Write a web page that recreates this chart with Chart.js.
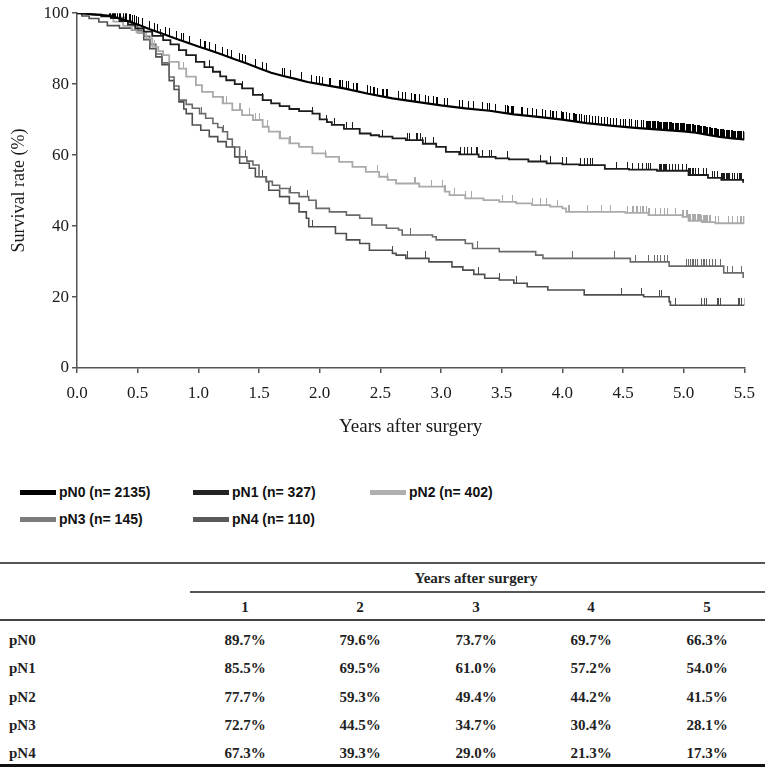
<!DOCTYPE html>
<html>
<head>
<meta charset="utf-8">
<script src="https://cdn.jsdelivr.net/npm/chart.js@4.4.1/dist/chart.umd.min.js"></script>
<style>
  body { margin: 0; background: #fff; }
  #page { position: relative; width: 765px; height: 767px; overflow: hidden; background: #fff; }
  #plot { position: absolute; left: 0; top: 0; }
  .leg { position: absolute; display: flex; align-items: center; white-space: nowrap;
         font: bold 14px "Liberation Sans", Arial, sans-serif; color: #111; transform: translateY(-50%); }
  .leg span.sw { display: inline-block; width: 36px; height: 5px; margin-right: 3px; }
  .rule { position: absolute; }
  .cell { position: absolute; white-space: nowrap; transform: translate(-50%, -50%);
          font: bold 15px "Liberation Serif", "Times New Roman", serif; color: #222; }
  .cell.left { transform: translate(0, -50%); }
</style>
</head>
<body>
<div id="page">
  <canvas id="plot" width="765" height="450"></canvas>
  <div id="legend"></div>
  <div id="table"></div>
</div>
<script>
// --- data ---
const groups = ['pN0', 'pN1', 'pN2', 'pN3', 'pN4'];
const groupSizes = [2135, 327, 402, 145, 110];

// [years, survival %] at each drop of the Kaplan-Meier curves
const pN0Curve = [[0,100],[0.1,99.8],[0.2,99.5],[0.3,99.0],[0.4,98.0],[0.5,96.8],[0.6,95.5],[0.7,94.3],
  [0.8,93.0],[0.9,91.8],[1.0,90.6],[1.1,89.5],[1.2,88.3],[1.3,87.0],[1.4,85.8],[1.5,84.5],[1.6,83.2],
  [1.7,82.3],[1.8,81.5],[1.9,80.6],[2.0,80.0],[2.2,78.8],[2.4,77.3],[2.6,76.0],[2.8,75.0],[3.0,74.0],
  [3.2,73.2],[3.4,72.5],[3.6,71.5],[3.8,70.8],[4.0,70.0],[4.2,69.0],[4.4,68.3],[4.6,67.7],[4.8,67.2],
  [5.0,66.7],[5.1,66.3],[5.2,65.7],[5.3,65.1],[5.4,64.7],[5.5,64.4]];
const pN1Curve = [[0,100],[0.12,99.6],[0.2,99.2],[0.28,98.6],[0.35,97.8],[0.42,96.8],[0.48,95.7],[0.55,94.8],
  [0.62,93.6],[0.71,92.4],[0.77,91.2],[0.84,89.6],[0.9,88.2],[0.98,86.3],[1.05,84.8],[1.12,83.5],[1.18,82.2],
  [1.23,81.1],[1.3,80.0],[1.36,78.8],[1.45,77.0],[1.53,75.5],[1.6,74.6],[1.67,73.8],[1.75,73.0],[1.83,72.4],
  [1.94,71.7],[2.0,70.1],[2.06,69.3],[2.1,68.5],[2.2,67.4],[2.33,66.1],[2.42,65.6],[2.49,65.2],[2.6,64.7],
  [2.71,64.2],[2.85,63.2],[2.96,62.3],[3.04,60.9],[3.15,60.2],[3.31,59.5],[3.45,59.1],[3.56,58.8],[3.72,58.2],
  [3.87,57.7],[4.0,57.4],[4.14,57.2],[4.35,56.1],[4.55,55.9],[4.78,55.6],[5.04,54.4],[5.2,53.6],[5.31,53.0],
  [5.49,52.2]];
const pN2Curve = [[0,100],[0.1,99.7],[0.2,99.0],[0.3,97.6],[0.38,96.4],[0.45,95.3],[0.49,94.7],[0.57,92.9],
  [0.62,90.5],[0.67,89.3],[0.71,88.2],[0.76,86.3],[0.84,84.4],[0.9,82.1],[0.98,79.7],[1.03,77.8],[1.12,76.4],
  [1.2,74.6],[1.28,72.7],[1.36,71.3],[1.45,69.9],[1.53,68.0],[1.58,66.6],[1.67,64.7],[1.75,63.3],[1.83,62.3],
  [1.94,60.5],[2.05,59.5],[2.16,58.1],[2.27,56.7],[2.38,55.3],[2.49,53.9],[2.56,53.0],[2.63,52.0],[2.82,51.1],
  [3.03,49.7],[3.07,48.7],[3.2,47.8],[3.35,47.3],[3.48,46.8],[3.62,46.4],[3.75,45.9],[3.9,45.5],[4.0,45.0],
  [4.03,44.0],[4.52,43.7],[4.71,43.1],[4.99,42.6],[5.04,41.5],[5.15,41.1],[5.26,40.8],[5.5,40.8]];
const pN3Curve = [[0,100],[0.15,99.5],[0.3,98.8],[0.4,97.8],[0.45,96.5],[0.5,95.2],[0.55,93.5],[0.6,91.2],
  [0.65,88.5],[0.7,86.0],[0.76,82.0],[0.8,79.5],[0.84,75.5],[0.9,74.3],[0.95,73.2],[1.01,71.7],[1.06,70.4],
  [1.12,68.9],[1.16,67.8],[1.2,66.6],[1.24,64.5],[1.28,62.3],[1.34,59.5],[1.4,58.3],[1.45,57.2],[1.5,53.9],
  [1.56,52.6],[1.61,51.5],[1.67,50.6],[1.75,49.4],[1.83,48.3],[1.91,47.3],[1.97,45.0],[2.08,44.0],[2.22,43.1],
  [2.33,42.2],[2.43,40.3],[2.55,39.4],[2.65,38.9],[2.68,37.5],[2.93,37.0],[2.96,36.1],[3.2,35.1],[3.26,33.7],
  [3.48,32.8],[3.78,31.8],[3.84,30.9],[4.56,29.9],[4.88,28.7],[5.33,26.8],[5.49,25.4]];
const pN4Curve = [[0,100],[0.04,99.2],[0.1,98.5],[0.18,97.5],[0.25,96.5],[0.35,95.8],[0.45,95.3],[0.5,94.5],
  [0.55,92.5],[0.6,90.0],[0.65,87.7],[0.7,85.5],[0.76,81.0],[0.8,78.5],[0.84,75.0],[0.88,73.0],[0.9,71.7],
  [0.95,68.5],[1.02,67.0],[1.09,65.2],[1.16,63.8],[1.23,62.3],[1.3,59.5],[1.34,57.7],[1.42,56.3],[1.47,53.9],
  [1.56,52.5],[1.58,50.1],[1.67,48.3],[1.75,46.4],[1.83,44.0],[1.89,42.2],[1.91,39.8],[2.13,37.9],[2.22,36.1],
  [2.33,35.1],[2.41,33.2],[2.6,32.3],[2.63,31.8],[2.71,30.9],[2.9,29.9],[3.09,28.5],[3.18,27.6],[3.27,26.4],
  [3.36,25.3],[3.48,24.8],[3.6,23.9],[3.71,22.9],[3.88,22.0],[4.18,20.6],[4.67,20.1],[4.88,18.7],[4.89,17.7],
  [5.5,17.7]];

// censoring times (years)
const pN0Censored = [0.27,0.28,0.29,0.30,0.31,0.32,0.33,0.35,0.36,0.38,0.40,0.41,0.43,0.44,0.46,0.47,0.49,0.51,
  0.54,0.60,0.64,0.66,0.73,0.76,0.82,0.86,0.88,0.93,1.02,1.05,1.06,1.09,1.14,1.20,1.24,1.27,1.34,1.36,1.39,
  1.47,1.53,1.56,1.69,1.71,1.76,1.85,1.93,1.97,2.00,2.02,2.08,2.09,2.16,2.17,2.19,2.22,2.24,2.28,2.30,2.31,
  2.39,2.42,2.44,2.45,2.48,2.52,2.53,2.55,2.56,2.65,2.68,2.71,2.76,2.78,2.79,2.82,2.87,2.90,2.94,2.96,2.97,
  3.03,3.05,3.15,3.18,3.23,3.27,3.34,3.38,3.40,3.45,3.53,3.55,3.56,3.58,3.59,3.60,3.66,3.67,3.71,3.75,3.79,
  3.84,3.86,3.90,3.92,3.93,3.95,3.99,4.00,4.01,4.03,4.06,4.09,4.10,4.11,4.12,4.14,4.16,4.18,4.20,4.22,4.25,
  4.27,4.30,4.32,4.35,4.37,4.40,4.42,4.45,4.48,4.50,4.52,4.55,4.57,4.60,4.62,4.65,4.67,4.69,
  4.70,4.71,4.72,4.73,4.74,4.75,4.76,4.77,4.78,4.79,4.80,4.81,4.82,4.83,4.84,4.85,4.86,4.87,4.88,4.89,
  4.90,4.91,4.92,4.93,4.94,4.95,4.96,4.97,4.98,4.99,5.00,5.01,5.02,5.03,5.04,5.05,5.06,5.07,5.08,5.09,
  5.10,5.11,5.12,5.13,5.14,5.15,5.16,5.17,5.18,5.19,5.20,5.21,5.22,5.23,5.24,5.25,5.26,5.27,5.28,5.29,
  5.30,5.31,5.32,5.33,5.34,5.35,5.36,5.37,5.38,5.39,5.40,5.41,5.42,5.43,5.44,5.45,5.46,5.47,5.48,5.49,5.50];
const pN1Censored = [0.69,1.09,1.36,1.53,1.94,2.06,2.12,2.22,2.27,2.52,2.72,2.74,2.80,2.81,2.83,2.85,2.87,2.94,
  3.16,3.19,3.22,3.25,3.29,3.30,3.34,3.40,3.42,3.55,3.82,3.90,4.00,4.03,4.15,4.18,4.21,4.23,4.25,4.45,4.54,
  4.58,4.63,4.66,4.69,4.71,4.73,4.80,4.81,4.82,4.83,4.84,4.85,4.86,4.88,4.91,4.93,4.96,4.99,5.02,5.04,5.05,
  5.06,5.07,5.08,5.10,5.12,5.16,5.19,5.24,5.25,5.28,5.31,5.32,5.33,5.34,5.35,5.36,5.37,5.38,5.40,5.42,5.44,
  5.46,5.47,5.48];
const pN2Censored = [0.54,0.57,0.64,0.76,0.88,1.21,1.23,1.34,1.35,1.42,1.47,1.50,1.53,1.57,1.68,1.75,1.76,1.94,
  2.05,2.48,2.56,2.78,2.79,2.92,3.01,3.03,3.04,3.11,3.20,3.25,3.51,3.59,3.75,3.82,3.87,3.96,4.05,4.06,4.21,
  4.32,4.40,4.54,4.58,4.59,4.61,4.62,4.64,4.66,4.67,4.69,4.71,4.72,4.77,4.81,4.84,4.87,4.93,4.99,5.00,5.02,
  5.03,5.04,5.05,5.06,5.07,5.08,5.09,5.10,5.11,5.12,5.13,5.14,5.15,5.16,5.17,5.18,5.19,5.20,5.21,5.22,5.26,
  5.29,5.37,5.40,5.44,5.47,5.48,5.49,5.50];
const pN3Censored = [1.03,1.21,1.39,1.76,1.90,1.97,2.75,3.30,4.08,4.43,4.60,4.71,4.76,4.78,4.81,4.84,4.87,5.02,
  5.04,5.06,5.07,5.08,5.10,5.11,5.15,5.16,5.17,5.19,5.21,5.24,5.26,5.30,5.36,5.40,5.48];
const pN4Censored = [1.53,1.94,2.60,2.72,2.87,3.31,3.48,3.62,4.49,4.65,4.80,4.82,4.93,5.15,5.17,5.19,5.28,5.29,
  5.30,5.45,5.46,5.48,5.50];

// survival table
const tableYears = [1, 2, 3, 4, 5];
const pN0Rates = ['89.7%', '79.6%', '73.7%', '69.7%', '66.3%'];
const pN1Rates = ['85.5%', '69.5%', '61.0%', '57.2%', '54.0%'];
const pN2Rates = ['77.7%', '59.3%', '49.4%', '44.2%', '41.5%'];
const pN3Rates = ['72.7%', '44.5%', '34.7%', '30.4%', '28.1%'];
const pN4Rates = ['67.3%', '39.3%', '29.0%', '21.3%', '17.3%'];

// --- styles ---
const curveColors = ['#000000', '#1c1c1c', '#aaaaaa', '#6a6a6a', '#4e4e4e'];
const legendColors = ['#000000', '#222222', '#b0b0b0', '#7c7c7c', '#5a5a5a'];
const curveWidths = [2.2, 1.8, 1.8, 1.6, 1.6];
const steppedCurve = [false, 'before', 'before', 'before', 'before'];
const tickHeights = [8, 7, 7, 7, 7];

const curves = [pN0Curve, pN1Curve, pN2Curve, pN3Curve, pN4Curve];
const censored = [pN0Censored, pN1Censored, pN2Censored, pN3Censored, pN4Censored];
const rates = [pN0Rates, pN1Rates, pN2Rates, pN3Rates, pN4Rates];

// curve value at time t (step lookup, or straight segments when not stepped)
function survivalAt(curve, t, stepped) {
    let prev = curve[0];
    for (let i = 1; i < curve.length; i++) {
        const cur = curve[i];
        if (cur[0] > t) {
            if (stepped) return prev[1];
            const f = (t - prev[0]) / (cur[0] - prev[0]);
            return prev[1] + f * (cur[1] - prev[1]);
        }
        prev = cur;
    }
    return prev[1];
}

// vertical censor mark sitting on top of the point
function censorMark(color, len) {
    const c = document.createElement('canvas');
    c.width = 1;
    c.height = len * 2;
    const g = c.getContext('2d');
    g.fillStyle = color;
    g.fillRect(0, 0, 1, len);
    return c;
}

const datasets = [];
groups.forEach((name, i) => {
    datasets.push({
        label: name,
        data: curves[i].map(p => ({ x: p[0], y: p[1] })),
        borderColor: curveColors[i],
        borderWidth: curveWidths[i],
        stepped: steppedCurve[i],
        tension: 0,
        pointRadius: 0,
        fill: false
    });
    datasets.push({
        label: name + ' censored',
        data: censored[i].map(t => ({ x: t, y: survivalAt(curves[i], t, !!steppedCurve[i]) })),
        showLine: false,
        pointStyle: censorMark(curveColors[i], tickHeights[i]),
        pointRadius: 3,
        borderWidth: 0
    });
});

const serif = 'Liberation Serif, Times New Roman, serif';

new Chart(document.getElementById('plot'), {
    type: 'line',
    data: { datasets: datasets },
    options: {
        responsive: false,
        animation: false,
        devicePixelRatio: 1,
        layout: { padding: { top: 13, right: 19, bottom: 12, left: 8 } },
        plugins: {
            legend: { display: false },
            tooltip: { enabled: false }
        },
        scales: {
            x: {
                type: 'linear',
                min: 0,
                max: 5.5,
                afterFit: s => { s.height = 70; },
                border: { color: '#555', width: 1.5 },
                grid: { drawOnChartArea: false, tickLength: 5, color: '#555', lineWidth: 1.5 },
                ticks: {
                    stepSize: 0.5, padding: 10, color: '#1a1a1a', maxRotation: 0, autoSkip: false,
                    font: { family: serif, size: 17 },
                    callback: v => v.toFixed(1)
                },
                title: { display: true, text: 'Years after surgery', color: '#1a1a1a', padding: 0,
                         font: { family: serif, size: 19 } }
            },
            y: {
                min: 0,
                max: 100,
                afterFit: s => { s.width = 69; },
                border: { color: '#555', width: 1.5 },
                grid: { drawOnChartArea: false, tickLength: 5, color: '#555', lineWidth: 1.5 },
                ticks: { stepSize: 20, padding: 3, color: '#1a1a1a', font: { family: serif, size: 17 } },
                title: { display: true, text: 'Survival rate (%)', color: '#1a1a1a', padding: 0,
                         font: { family: serif, size: 18 } }
            }
        }
    }
});

// --- legend ---
const legendPos = [[20, 492], [193, 492], [370, 492], [20, 519], [193, 519]];
const legendBox = document.getElementById('legend');
groups.forEach((name, i) => {
    const d = document.createElement('div');
    d.className = 'leg';
    d.style.left = legendPos[i][0] + 'px';
    d.style.top = legendPos[i][1] + 'px';
    d.innerHTML = '<span class="sw" style="background:' + legendColors[i] + '"></span>' +
        name + ' (n= ' + groupSizes[i] + ')';
    legendBox.appendChild(d);
});

// --- table ---
const tableBox = document.getElementById('table');
const colCenters = [245, 360, 476, 591, 707];
const rowCenters = [640, 668, 697, 725, 753];
function rule(x, y, w, h, color) {
    const r = document.createElement('div');
    r.className = 'rule';
    r.style.cssText = 'left:' + x + 'px;top:' + y + 'px;width:' + w + 'px;height:' + h + 'px;background:' + color;
    tableBox.appendChild(r);
}
function cell(text, x, y, left) {
    const c = document.createElement('div');
    c.className = left ? 'cell left' : 'cell';
    c.style.left = x + 'px';
    c.style.top = y + 'px';
    c.textContent = text;
    tableBox.appendChild(c);
}
rule(0, 562, 765, 2, '#555');
rule(190, 591, 575, 2, '#555');
rule(0, 619, 765, 2, '#444');
rule(0, 764, 765, 3, '#111');
cell('Years after surgery', 476, 578);
tableYears.forEach((yr, j) => cell(String(yr), colCenters[j], 607));
groups.forEach((name, i) => {
    cell(name, 9, rowCenters[i], true);
    rates[i].forEach((v, j) => cell(v, colCenters[j], rowCenters[i]));
});
</script>
</body>
</html>
